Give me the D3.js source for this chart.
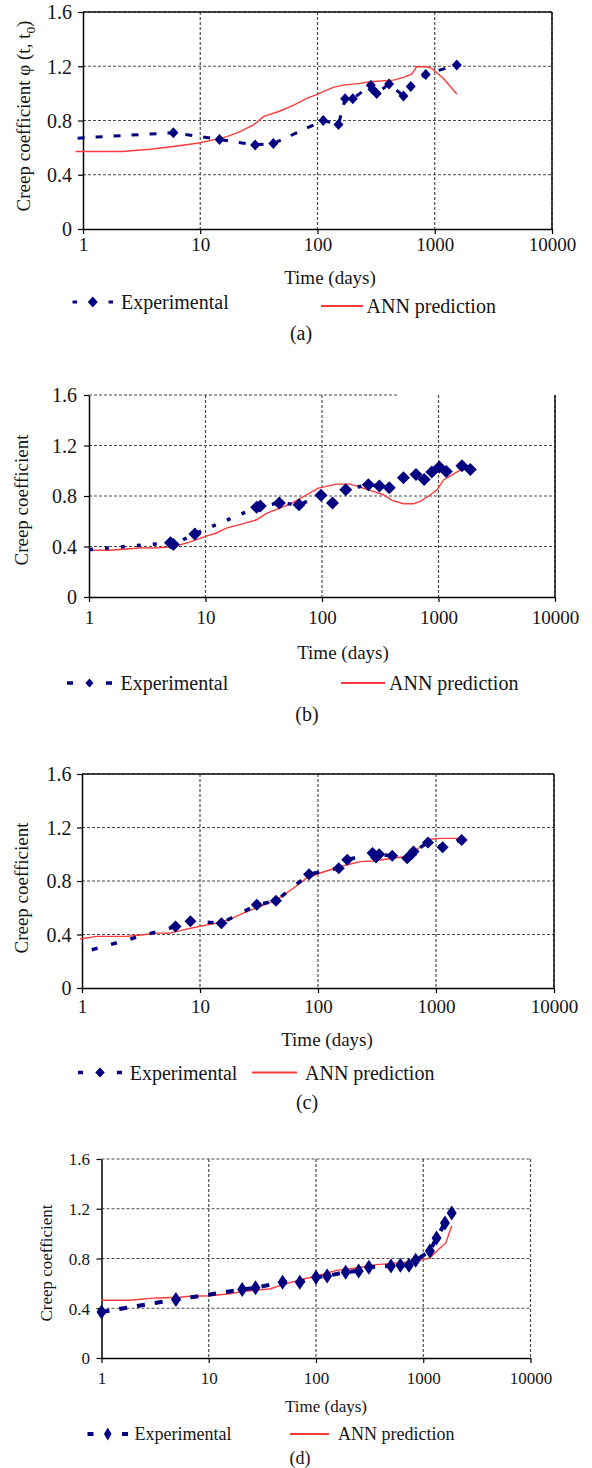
<!DOCTYPE html>
<html>
<head>
<meta charset="utf-8">
<script src="https://cdn.jsdelivr.net/npm/d3@7"></script>
<style>
  body { margin: 0; background: #fff; }
  svg text { font-family: "Liberation Serif", "Times New Roman", serif; fill: #151515; }
</style>
</head>
<body>
<svg id="fig" width="592" height="1468"></svg>
<script>
const xTicks = [1, 10, 100, 1000, 10000]
const yTicks = [0, 0.4, 0.8, 1.2, 1.6]
const seriesNames = ['Experimental', 'ANN prediction']
const captions = ['(a)', '(b)', '(c)', '(d)']
const xTitle = 'Time (days)'
const yTitle = 'Creep coefficient'

// [time (days), creep coefficient]
const expA = [[0.9, 0.67], [5.9, 0.71], [14.6, 0.66], [29.4, 0.62], [42, 0.63], [112, 0.80], [151, 0.77],
  [172, 0.96], [200, 0.96], [285, 1.06], [294, 1.03], [320, 1.0], [408, 1.07], [541, 0.98], [624, 1.05],
  [838, 1.14], [1540, 1.21]]
const annA = [[0.86, 0.571], [2.15, 0.571], [3.75, 0.588], [5.9, 0.608], [9.4, 0.632], [12.1, 0.652],
  [16.9, 0.681], [21.8, 0.718], [28.5, 0.767], [34.6, 0.828], [48, 0.87], [62.6, 0.914], [81, 0.963],
  [99, 0.993], [136, 1.044], [166, 1.061], [230, 1.074], [281, 1.086], [443, 1.098], [541, 1.118],
  [636, 1.142], [700, 1.196], [852, 1.196], [940, 1.184], [1186, 1.11], [1541, 0.995]]

const expB = [[1, 0.375], [5.0, 0.43], [5.3, 0.415], [8.1, 0.50], [27.5, 0.71], [29.5, 0.72], [43, 0.745],
  [63.5, 0.73], [98, 0.805], [123, 0.745], [160, 0.85], [250, 0.89], [311, 0.88], [378, 0.865], [500, 0.945],
  [641, 0.97], [753, 0.93], [876, 0.99], [1018, 1.03], [1165, 0.995], [1590, 1.04], [1875, 1.01]]
const annB = [[1, 0.37], [1.5, 0.37], [2.1, 0.38], [2.7, 0.388], [4.05, 0.39], [5.3, 0.40], [7.2, 0.433],
  [10, 0.48], [12.4, 0.507], [15.1, 0.546], [19.7, 0.573], [27.5, 0.612], [33.6, 0.665], [43.7, 0.704],
  [56.8, 0.749], [74, 0.81], [93, 0.863], [109, 0.876], [133, 0.894], [174, 0.894], [211, 0.87],
  [276, 0.836], [335, 0.81], [399, 0.765], [500, 0.739], [611, 0.739], [698, 0.757], [853, 0.81],
  [974, 0.85], [1111, 0.929], [1353, 0.976], [1590, 1.013]]

const expC = [[1.21, 0.286], [6.2, 0.46], [8.3, 0.50], [15.2, 0.485], [30.3, 0.622], [44, 0.652], [84, 0.851],
  [150, 0.896], [177, 0.958], [290, 1.01], [310, 0.975], [330, 1.0], [426, 0.988], [570, 0.97], [620, 1.0],
  [645, 1.02], [855, 1.087], [1138, 1.052], [1648, 1.107]]
const annC = [[0.96, 0.366], [1.33, 0.386], [2.39, 0.386], [3.3, 0.398], [4.3, 0.41], [5.6, 0.41], [7.2, 0.435],
  [9.75, 0.46], [13.8, 0.485], [18, 0.515], [23.3, 0.56], [32.2, 0.609], [44.6, 0.659], [61.8, 0.746],
  [80, 0.821], [103, 0.858], [133, 0.89], [175, 0.92], [227, 0.945], [293, 0.95], [433, 0.97], [563, 0.983],
  [730, 1.052], [884, 1.112], [1084, 1.119], [1648, 1.119]]

const expD = [[1, 0.37], [4.94, 0.47], [20.5, 0.55], [27.3, 0.565], [48.8, 0.61], [70.6, 0.61], [100, 0.65],
  [127, 0.66], [189, 0.69], [250, 0.70], [311, 0.73], [500, 0.74], [612, 0.745], [736, 0.745], [850, 0.785],
  [1153, 0.86], [1330, 0.965], [1594, 1.085], [1842, 1.165]]
const annD = [[1, 0.464], [1.84, 0.464], [3.26, 0.483], [5.37, 0.488], [6.66, 0.496], [10.2, 0.501],
  [15.7, 0.517], [21, 0.536], [37, 0.555], [49.4, 0.59], [76, 0.635], [101, 0.657], [155, 0.705],
  [238, 0.724], [366, 0.751], [490, 0.759], [750, 0.772], [1000, 0.791], [1153, 0.804], [1377, 0.871],
  [1622, 0.925], [1842, 1.064]]

const navy = '#000080'
const red = '#ff3a3a'

// layout of each panel (startMark: draw a diamond on the first point of the dashed series)
const panels = [
  {exp: expA, ann: annA, x0: 83, x1: 552, y0: 12, y1: 229, fs: 19, tfs: 20, phi: true,
   yLab: [23, 116], yTickX: 72, xTickY: 245, title: [330, 277],
   leg: {y: 302, ex: [72.5, 113], dl: 4.5, ew: 10, eh: 11, et: 121, ay: 306, al: [321, 363], at: 366.5},
   cap: [301, 333], mw: 10, mh: 11, top: 'solid', right: 'solid', dash: '7,11', lw: 3, startMark: false},
  {exp: expB, ann: annB, x0: 89, x1: 555, y0: 395, y1: 597, fs: 19, tfs: 20,
   yLab: [21, 500], yTickX: 77, xTickY: 618, title: [343, 652],
   leg: {y: 683, ex: [67, 112], dl: 6, ew: 8, eh: 9, et: 120.5, ay: 683, al: [341, 385], at: 389},
   cap: [307, 714], mw: 13, mh: 13, top: 'partial', topEnd: 397, right: 'solid', dash: '4,12', lw: 3.5,
   startMark: false},
  {exp: expC, ann: annC, x0: 82, x1: 554, y0: 774, y1: 988, fs: 19, tfs: 20,
   yLab: [21, 888], yTickX: 71.5, xTickY: 1007, title: [327, 1039],
   leg: {y: 1072.5, ex: [78, 122], dl: 5, ew: 9.5, eh: 10, et: 129.7, ay: 1072.5, al: [252, 297], at: 305},
   cap: [307, 1102], mw: 12, mh: 12, top: 'solid', right: 'solid', dash: '6,14', lw: 3.5, startMark: false},
  {exp: expD, ann: annD, x0: 101.5, x1: 530.5, y0: 1159, y1: 1358, fs: 17, tfs: 17,
   yLab: [46, 1263], yTickX: 90, xTickY: 1378, title: [326, 1406],
   leg: {y: 1434, ex: [87.5, 128], dl: 6, ew: 7.5, eh: 13, et: 134.6, ay: 1434, al: [290, 329], at: 338},
   cap: [300, 1458], mw: 10, mh: 15, top: 'grid', right: 'grid', dash: '8,10', lw: 4, startMark: true}
]

const svg = d3.select('#fig')

const diamond = (w, h) => `M0,${-h / 2}L${w / 2},0L0,${h / 2}L${-w / 2},0Z`

panels.forEach((p, i) => {
  const g = svg.append('g')

  const x = d3.scaleLog().domain([1, 10000]).range([p.x0, p.x1])
  const y = d3.scaleLinear().domain([0, 1.6]).range([p.y1, p.y0])

  // gridlines
  g.selectAll('.hgrid').data(yTicks.filter(d => d > 0)).enter()
    .append('line')
    .attr('x1', p.x0)
    .attr('x2', d => (d === 1.6 && p.topEnd) ? p.topEnd : p.x1)
    .attr('y1', d => y(d)).attr('y2', d => y(d))
    .attr('stroke', '#4a4a4a').attr('stroke-width', 1.2)
    .attr('stroke-dasharray', '3,2')

  g.selectAll('.vgrid').data(xTicks.slice(1)).enter()
    .append('line')
    .attr('x1', d => x(d)).attr('x2', d => x(d))
    .attr('y1', p.y0).attr('y2', p.y1)
    .attr('stroke', '#4a4a4a').attr('stroke-width', 1.2)
    .attr('stroke-dasharray', '3,2')

  // plot border
  if (p.top === 'solid') {
    g.append('line').attr('x1', p.x0).attr('x2', p.x1).attr('y1', p.y0).attr('y2', p.y0)
      .attr('stroke', '#111').attr('stroke-width', 1.5)
  }
  if (p.right === 'solid') {
    g.append('line').attr('x1', p.x1).attr('x2', p.x1).attr('y1', p.y0).attr('y2', p.y1)
      .attr('stroke', '#111').attr('stroke-width', 1.5)
  }

  // axes
  const xAxis = d3.axisBottom(x).tickValues(xTicks).tickFormat(d3.format('d')).tickSize(5).tickSizeOuter(0)
  const yAxis = d3.axisLeft(y).tickValues(yTicks).tickFormat(d => d === 0 ? '0' : d3.format('.1f')(d))
    .tickSize(5).tickSizeOuter(0)

  const xg = g.append('g').attr('transform', `translate(0,${p.y1})`).call(xAxis)
  const yg = g.append('g').attr('transform', `translate(${p.x0},0)`).call(yAxis)

  ;[xg, yg].forEach(a => {
    a.select('.domain').attr('stroke', '#000').attr('stroke-width', 1.5)
    a.selectAll('.tick line').attr('stroke', '#000').attr('stroke-width', 1.2)
    a.selectAll('.tick text').attr('font-family', null).attr('fill', '#151515')
  })
  xg.selectAll('.tick text').attr('font-size', p.fs).attr('y', p.xTickY - p.y1).attr('dy', '0.34em')
  yg.selectAll('.tick text').attr('font-size', p.tfs).attr('x', p.yTickX - p.x0).attr('dy', '0.34em')

  // series
  const line = d3.line().x(d => x(d[0])).y(d => y(d[1]))

  g.append('path').datum(p.ann)
    .attr('d', line).attr('fill', 'none')
    .attr('stroke', red).attr('stroke-width', 1.4)

  g.append('path').datum(p.exp)
    .attr('d', line).attr('fill', 'none')
    .attr('stroke', navy).attr('stroke-width', p.lw)
    .attr('stroke-dasharray', p.dash)

  g.selectAll('.pt').data(p.startMark ? p.exp : p.exp.slice(1)).enter()
    .append('path')
    .attr('d', diamond(p.mw, p.mh))
    .attr('transform', d => `translate(${x(d[0])},${y(d[1])})`)
    .attr('fill', navy)

  // axis titles
  const yt = g.append('text')
    .attr('transform', `translate(${p.yLab[0]},${p.yLab[1]}) rotate(-90)`)
    .attr('text-anchor', 'middle').attr('dominant-baseline', 'central')
    .attr('font-size', p.fs)
  if (p.phi) {
    yt.append('tspan').text(yTitle + ' φ (t, t')
    yt.append('tspan').attr('baseline-shift', 'sub').attr('font-size', p.fs * 0.7).text('0')
    yt.append('tspan').text(')')
  } else {
    yt.text(yTitle)
  }

  g.append('text')
    .attr('x', p.title[0]).attr('y', p.title[1])
    .attr('text-anchor', 'middle').attr('dominant-baseline', 'central')
    .attr('font-size', p.fs)
    .text(xTitle)

  // legend
  const L = p.leg
  g.append('line')
    .attr('x1', L.ex[0]).attr('x2', L.ex[1]).attr('y1', L.y).attr('y2', L.y)
    .attr('stroke', navy).attr('stroke-width', p.lw)
    .attr('stroke-dasharray', `${L.dl},${L.ex[1] - L.ex[0] - 2 * L.dl},${L.dl}`)
  g.append('path')
    .attr('d', diamond(L.ew, L.eh))
    .attr('transform', `translate(${(L.ex[0] + L.ex[1]) / 2},${L.y})`)
    .attr('fill', navy)
  g.append('text')
    .attr('x', L.et).attr('y', L.y)
    .attr('dominant-baseline', 'central').attr('font-size', p.fs + 1)
    .text(seriesNames[0])

  g.append('line')
    .attr('x1', L.al[0]).attr('x2', L.al[1]).attr('y1', L.ay).attr('y2', L.ay)
    .attr('stroke', red).attr('stroke-width', 1.8)
  g.append('text')
    .attr('x', L.at).attr('y', L.ay)
    .attr('dominant-baseline', 'central').attr('font-size', p.fs + 1)
    .text(seriesNames[1])

  g.append('text')
    .attr('x', p.cap[0]).attr('y', p.cap[1])
    .attr('text-anchor', 'middle').attr('dominant-baseline', 'central')
    .attr('font-size', p.fs + 1)
    .text(captions[i])
})
</script>
</body>
</html>
